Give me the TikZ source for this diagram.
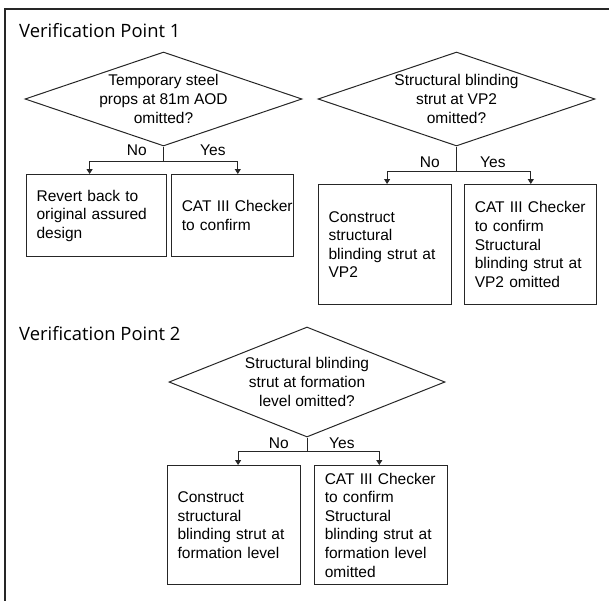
\documentclass[tikz,border=0pt]{standalone}
\usepackage{fontspec}
\setmainfont{Liberation Sans}
\newfontfamily\headfont{Open Sans}
\usetikzlibrary{arrows.meta,positioning,shapes.geometric}
\definecolor{vpline}{HTML}{262626}

\begin{document}
\begin{tikzpicture}[
    x=1pt,y=-1pt,
    font=\fontsize{15.5}{18.6}\selectfont,
    head/.style={font=\headfont\fontsize{18.4}{22}\selectfont,anchor=base west,inner sep=0pt},
    dec/.style={diamond,draw=vpline,line width=1pt,aspect=2.95,inner sep=-4pt,minimum width=277pt,minimum height=94pt,align=center},
    box/.style={draw=vpline,line width=1.2pt,anchor=north west,inner xsep=10pt,inner ysep=0pt,align=left},
    lbl/.style={inner sep=0pt},
    arr/.style={-{Triangle[length=5pt,width=6pt]},line width=1pt,draw=vpline}
  ]
    \useasboundingbox (0,0) rectangle (609,600);
    \draw[vpline,line width=1.5pt] (612,9) -- (5,9) -- (5,603);

    % verification point 1
    \node[head] (vp1) at (19,37) {Verification Point 1};
    \node[dec] (d1) at (163.5,99) {Temporary steel\\props at 81m AOD\\omitted?};
    \node[dec] (d2) at (456.5,99) {Structural blinding\\strut at VP2\\omitted?};
    \node[box,text width=120pt,minimum height=82pt] (b1) at (26,174) {Revert back to\\original assured\\design};
    \node[box,text width=102pt,minimum height=82pt,right=4pt of b1] (b2) {CAT~III~Checker\\to confirm};
    \node[box,text width=113pt,minimum height=120pt] (b3) at (318,184) {Construct\\structural\\blinding strut at\\VP2};
    \node[box,text width=112pt,minimum height=120pt,right=12pt of b3] (b4) {CAT III Checker\\to confirm\\Structural\\blinding strut at\\VP2 omitted};

    \draw[arr] (d1.south) -- ++(0,15) coordinate (j1) -| ([xshift=-7pt]b1.north);
    \draw[arr] (j1) -| ([xshift=5pt]b2.north);
    \draw[arr] (d2.south) -- ++(0,25) coordinate (j2) -| ([xshift=2pt]b3.north);
    \draw[arr] (j2) -| (b4.north);
    \node[lbl,anchor=base east] (no1) at (147,155) {No};
    \node[lbl,anchor=base west] (yes1) at (200,155) {Yes};
    \node[lbl,anchor=base east] (no2) at (440,167) {No};
    \node[lbl,anchor=base west] (yes2) at (480,167) {Yes};

    % verification point 2
    \node[head] (vp2) at (19,340) {Verification Point 2};
    \node[dec,minimum width=276pt,minimum height=110pt,aspect=2.5] (d3) at (307,382) {Structural blinding\\strut at formation\\level omitted?};
    \node[box,text width=113pt,minimum height=119pt] (b5) at (167,465) {Construct\\structural\\blinding strut at\\formation level};
    \node[box,text width=113pt,minimum height=119pt,right=13pt of b5] (b6) {CAT III Checker\\to confirm\\Structural\\blinding strut at\\formation level\\omitted};

    \draw[arr] (d3.south) -- ++(0,14) coordinate (j3) -| ([xshift=4pt]b5.north);
    \draw[arr] (j3) -| ([xshift=-2pt]b6.north);
    \node[lbl,anchor=base east] (no3) at (289,448) {No};
    \node[lbl,anchor=base west] (yes3) at (329,448) {Yes};
\end{tikzpicture}
\end{document}
